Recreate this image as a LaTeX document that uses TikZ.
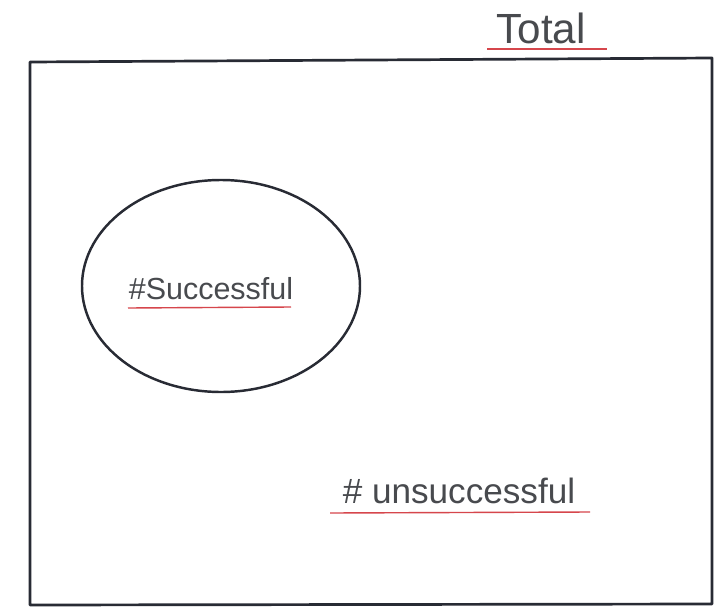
\documentclass[tikz,border=0pt]{standalone}
\usepackage{fontspec}
\setmainfont{Liberation Sans}
\usepackage{tikz}
\usepackage{xcolor}
\usetikzlibrary{positioning,calc}
\definecolor{inkgray}{RGB}{40,43,52}
\definecolor{pencil}{RGB}{72,74,78}
\definecolor{penred}{RGB}{214,70,76}

\begin{document}
\begin{tikzpicture}[x=0.03cm, y=-0.03cm, every node/.style={text=pencil, inner sep=0pt}]
        \useasboundingbox (0,0) rectangle (721,614);
        \fill[white] (0,0) rectangle (721,614);
        % outer box and circle
        \draw[inkgray, line width=2.3pt, line join=round] (30,62) -- (712,58) -- (712,604) -- (30,605) -- cycle;
        \draw[inkgray, line width=2.1pt] (221,286) ellipse [x radius=139, y radius=106];
        % labels
        \node[anchor=base, font=\fontsize{36}{40}\selectfont] (total) at (541,43) {Total};
        \node[anchor=base, font=\fontsize{26}{30}\selectfont] (succ) at (211,299) {\#Successful};
        \node[anchor=base, font=\fontsize{30}{34}\selectfont] (unsucc) at (459,503) {\# unsuccessful};
        % red underlines
        \coordinate (tl) at (487,49);
        \coordinate (tr) at (607,49);
        \coordinate (sl) at (128,308);
        \coordinate (sr) at (291,307);
        \coordinate (ul) at (330,513);
        \coordinate (ur) at (590,512);
        \draw[penred, line width=1.2pt] (tl) -- (tr);
        \draw[penred, line width=1.2pt] (sl) -- (sr);
        \draw[penred, line width=1.2pt] (ul) -- (ur);
    \end{tikzpicture}
\end{document}
